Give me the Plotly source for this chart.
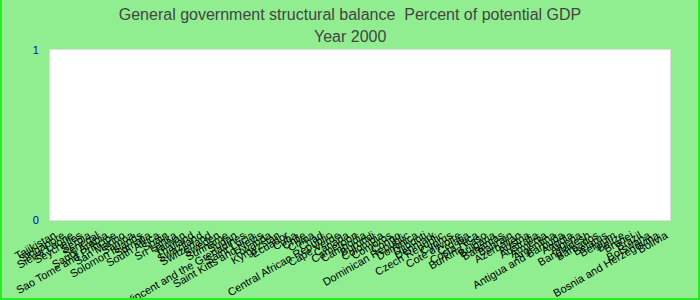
import plotly.graph_objects as go

countries = [
    "Tajikistan", "Singapore", "Sierra Leone", "Seychelles", "Serbia", "Senegal",
    "Saudi Arabia", "Sao Tome and Principe", "San Marino", "Samoa", "Solomon Islands",
    "Somalia", "South Africa", "Spain", "Sri Lanka", "Taiwan", "Thailand", "Swaziland",
    "Switzerland", "Sweden", "Suriname", "Sudan", "Saint Vincent and the Grenadines",
    "Saint Lucia", "Saint Kitts and Nevis", "Rwanda", "Kyrgyzstan", "Ecuador", "Cuba",
    "Chile", "China", "Chad", "Central African Republic", "Cape Verde", "Canada",
    "Cameroon", "Cambodia", "Burundi", "Colombia", "Comoros", "Congo",
    "Dominican Republic", "Dominica", "Djibouti", "Denmark", "Czech Republic", "Cyprus",
    "Cote d'Ivoire", "Croatia", "Costa Rica", "Burkina Faso", "Bulgaria", "Bahamas",
    "Bahrain", "Azerbaijan", "Austria", "Australia", "Armenia", "Argentina",
    "Antigua and Barbuda", "Angola", "Algeria", "Bangladesh", "Barbados", "Belarus",
    "Belgium", "Belize", "Brunei", "Brazil", "Botswana", "Bosnia and Herzegovina", "Bolivia",
]
values = [None] * len(countries)

title_line1 = "General government structural balance  Percent of potential GDP"
title_line2 = "Year 2000"

fig = go.Figure(go.Bar(x=countries, y=values, marker_color="#4472c4"))

L, R, T, B = 50, 30, 50, 80
W, H = 700, 300
pw, ph = W - L - R, H - T - B

fig.update_layout(
    width=W, height=H,
    margin=dict(l=L, r=R, t=T, b=B, autoexpand=False),
    paper_bgcolor="#90ee90",
    plot_bgcolor="white",
    font=dict(family="Liberation Sans, Arial, sans-serif", color="black"),
    title=dict(
        text=title_line1,
        x=0.5, xanchor="center", xref="container",
        y=1 - 14 / 300, yanchor="middle", yref="container",
        font=dict(size=16, color="#444444"),
    ),
    annotations=[dict(
        text=title_line2, xref="paper", yref="paper",
        x=(W / 2 - L) / pw, y=(H - 36 - B) / ph, xanchor="center", yanchor="middle",
        showarrow=False, font=dict(size=16, color="#444444"),
    )],
    showlegend=False,
    shapes=[dict(
        type="rect", xref="paper", yref="paper",
        x0=-L / pw + 1 / pw, x1=(W - L) / pw - 1 / pw,
        y0=-B / ph + 1 / ph, y1=(H - T) / ph - 1 / ph,
        line=dict(color="#22ee22", width=2), fillcolor="rgba(0,0,0,0)", layer="above",
    )],
)
fig.update_xaxes(
    type="category", tickangle=-30, tickfont=dict(size=11, color="black"),
    tickmode="linear", dtick=1, tick0=0,
    showgrid=False, showline=True, linecolor="#dddddd", mirror=True,
    categoryorder="array", categoryarray=countries,
    ticklabelstandoff=4,
)
fig.update_yaxes(
    range=[0, 1], dtick=1, tickfont=dict(size=11, color="#0000cc"),
    showgrid=False, zeroline=False, showline=True, linecolor="#dddddd", mirror=True,
    ticklabelstandoff=8,
)

fig.write_html("out.html")
